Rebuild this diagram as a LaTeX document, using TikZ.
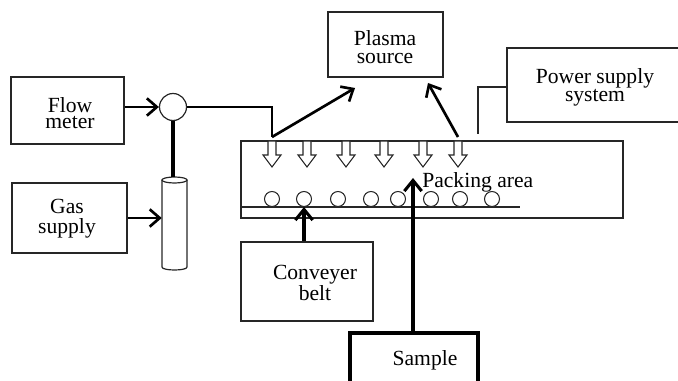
\documentclass[tikz,border=0pt]{standalone}
\usepackage{fontspec}
\setmainfont{Liberation Serif}
\usetikzlibrary{arrows.meta,calc}
\tikzset{
  boxn/.style={draw=black!85, line width=0.9pt, inner sep=0pt},
  lbl/.style={font=\fontsize{16.2}{13.5}\selectfont, align=center, inner sep=0pt},
  conn/.style={line width=2pt, -{Straight Barb[length=7.5pt,width=13pt]}},
  thickconn/.style={line width=2.3pt, -{Straight Barb[length=8pt,width=13pt]}},
  hollow/.style={draw=black!85, line width=0.8pt, fill=white},
  ball/.style={draw=black!85, line width=0.8pt, fill=white},
}
\begin{document}
\begin{tikzpicture}[x=0.75pt,y=-0.75pt]
\useasboundingbox (0,0) rectangle (678,381);

% boxes
\node[boxn, minimum width=113*0.75pt, minimum height=67*0.75pt] (flow) at (67.5,110.5) {};
\node[lbl, font=\fontsize{16.2}{12}\selectfont] (flowtxt) at (70,113) {Flow\\meter};

\node[boxn, minimum width=115*0.75pt, minimum height=70*0.75pt] (gas) at (69.5,218) {};
\node[lbl, font=\fontsize{16.2}{15}\selectfont] (gastxt) at (67,219) {Gas\\supply};

\node[boxn, minimum width=115*0.75pt, minimum height=65*0.75pt] (plasma) at (385.5,44.5) {};
\node[lbl] (plasmatxt) at (385,47) {Plasma\\source};

\node[boxn, minimum width=178*0.75pt, minimum height=74*0.75pt] (power) at (596,85) {};
\node[lbl] (powertxt) at (595,87) {Power supply\\system};

\node[boxn, minimum width=382*0.75pt, minimum height=77*0.75pt] (pack) at (432,179.5) {};
\node[lbl, anchor=west] (packtxt) at (422,182) {Packing area};

\node[boxn, minimum width=132*0.75pt, minimum height=79*0.75pt] (conv) at (307,281.5) {};
\node[lbl] (convtxt) at (315,283) {Conveyer\\belt};

\node[draw=black, line width=2.3pt, inner sep=0pt, minimum width=128*0.75pt, minimum height=67*0.75pt] (sample) at (414,366.5) {};
\node[lbl] (sampletxt) at (425,360) {Sample};

% valve and cylinder
\node[boxn, circle, minimum size=27*0.75pt] (valve) at (173,107) {};
\node[inner sep=0pt, minimum width=25*0.75pt, minimum height=93*0.75pt] (cyl) at (174.5,223.5) {};
\draw[draw=black!85, line width=0.9pt] (162,180) -- (162,267) .. controls (162,271) and (187,271) .. (187,267) -- (187,180);
\draw[draw=black!85, line width=0.9pt] (174.5,180) ellipse [x radius=12.5, y radius=3];

% coordinates
\coordinate (cyltop) at (173,177);
\coordinate (j1) at (272,137);
\coordinate (j2) at (458,137);
\coordinate (p1) at (355,88);
\coordinate (p2) at (428,83);
\coordinate (pw) at (478,134);
\coordinate (belttip) at (304,207);
\coordinate (sampletip) at (413,178);
\coordinate (beltL) at (241,207);
\coordinate (beltR) at (520,207);

% connectors
\draw[conn] (flow.east |- valve) -- (valve.west);
\draw[conn] (gas.east) -- (gas.east -| cyl.west);
\draw[line width=3pt] (valve.south) -- (cyltop);
\draw[line width=2pt] (valve.east) -| (j1);
\draw[conn] (j1) -- (p1);
\draw[conn] (j2) -- (p2);
\draw[draw=black!85, line width=0.9pt] ([yshift=-2*0.75pt]power.west) -| (pw);

% belt
\draw[draw=black!85, line width=0.9pt] (beltL) -- (beltR);
\foreach \bx in {272,304,338,371,398,431,460,492}
  \draw[ball] (\bx,199) circle [radius=7.5];

% hollow arrows
\foreach \ax in {272,307,346,384,423,458}
  \draw[hollow] (\ax-4,141) -- (\ax+4,141) -- (\ax+4,155) -- (\ax+9,155) -- (\ax,167) -- (\ax-9,155) -- (\ax-4,155) -- cycle;

% upward arrows
\draw[thickconn] (conv.north -| belttip) -- (belttip);
\draw[thickconn] (sample.north -| sampletip) -- (sampletip);
\end{tikzpicture}
\end{document}
